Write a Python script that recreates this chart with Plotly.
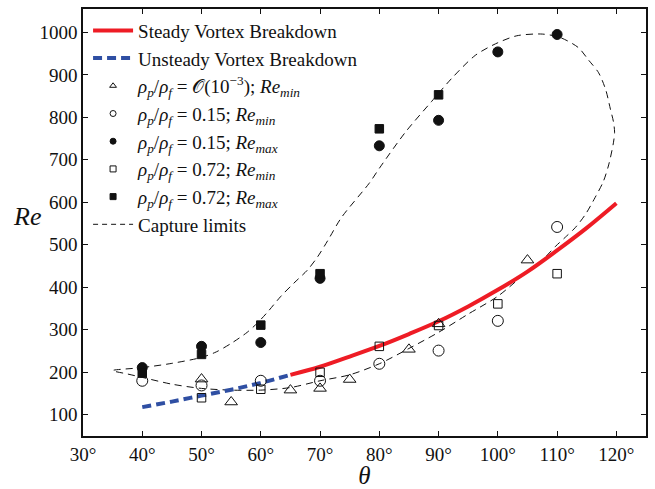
import plotly.graph_objects as go

# ---------------- data ----------------
theta_ticks = [30, 40, 50, 60, 70, 80, 90, 100, 110, 120]
theta_tick_text = ["30°", "40°", "50°", "60°", "70°", "80°", "90°", "100°", "110°", "120°"]
re_ticks = [100, 200, 300, 400, 500, 600, 700, 800, 900, 1000]

steady_theta = [65, 70, 75, 80, 85, 90, 95, 100, 105, 110, 115, 120]
steady_re = [194, 213, 237, 262, 290, 320, 355, 394, 437, 487, 540, 598]

unsteady_theta = [40, 45, 50, 55, 60, 65]
unsteady_re = [118, 131, 145, 159, 175, 194]

tri_theta = [50, 55, 65, 70, 75, 85, 90, 105]
tri_re = [184, 130, 158, 162, 183, 254, 314, 464]

c015min_theta = [40, 50, 60, 70, 80, 90, 100, 110]
c015min_re = [180, 169, 180, 180, 220, 251, 321, 542]

c015max_theta = [40, 50, 60, 70, 80, 90, 100, 110]
c015max_re = [211, 261, 270, 421, 733, 793, 954, 995]

s072min_theta = [50, 60, 70, 80, 90, 100, 110]
s072min_re = [140, 160, 200, 261, 310, 361, 432]

s072max_theta = [40, 50, 60, 70, 80, 90]
s072max_re = [198, 242, 311, 432, 773, 853]

capture_theta = [35, 40, 45, 50, 52.5, 55, 57.7, 59.5, 61.1, 63.4, 65.6, 67.9, 69.6, 71.3,
                 73.6, 78.3, 80, 84.4, 88.8, 92.3, 96.2, 99.6, 103.2, 107.5, 110.5, 113.6,
                 115.3, 117, 118.2, 119, 119.5, 119.7, 119.5, 118.7, 117.8, 116.4, 114.8,
                 113.1, 111.4, 109.7, 107.5, 105, 100, 95, 90, 85, 80, 75, 70, 65, 60, 55,
                 50, 45, 40, 37.5, 35]
capture_re = [204, 211, 221, 235, 248, 268, 294, 317, 341, 379, 410, 441, 472, 510,
              564, 645, 680, 765, 837, 893, 946, 973, 992, 996, 988, 964,
              935, 905, 865, 819, 790, 765, 740, 688, 649, 611, 572,
              541, 518, 496, 464, 437, 379, 337, 294, 256, 220, 194, 180, 164, 158, 158,
              162, 172, 188, 196, 204]

# legend labels
lbl_steady = "Steady Vortex Breakdown"
lbl_unsteady = "Unsteady Vortex Breakdown"
lbl_tri = "<i>ρ<sub>p</sub></i>/<i>ρ<sub>f</sub></i> = 𝒪(10<sup>−3</sup>); <i>Re<sub>min</sub></i>"
lbl_c015min = "<i>ρ<sub>p</sub></i>/<i>ρ<sub>f</sub></i> = 0.15; <i>Re<sub>min</sub></i>"
lbl_c015max = "<i>ρ<sub>p</sub></i>/<i>ρ<sub>f</sub></i> = 0.15; <i>Re<sub>max</sub></i>"
lbl_s072min = "<i>ρ<sub>p</sub></i>/<i>ρ<sub>f</sub></i> = 0.72; <i>Re<sub>min</sub></i>"
lbl_s072max = "<i>ρ<sub>p</sub></i>/<i>ρ<sub>f</sub></i> = 0.72; <i>Re<sub>max</sub></i>"
lbl_capture = "Capture limits"

FONT = "Liberation Serif"
BLACK = "#111111"

fig = go.Figure()

# capture limits curve (drawn first, under the markers)
fig.add_trace(go.Scatter(x=capture_theta, y=capture_re, mode="lines",
                         line=dict(color=BLACK, width=1, dash="7px,5px", shape="spline", smoothing=0.8),
                         showlegend=False, legendgroup="cap"))

fig.add_trace(go.Scatter(x=steady_theta, y=steady_re, mode="lines", name=lbl_steady,
                         line=dict(color="#ee1c25", width=4, shape="spline")))
fig.add_trace(go.Scatter(x=unsteady_theta, y=unsteady_re, mode="lines", name=lbl_unsteady,
                         line=dict(color="#2f4fa3", width=4, dash="9px,5px", shape="spline")))

marker_specs = [
    (tri_theta, tri_re, lbl_tri, "triangle-up-open", 11),
    (c015min_theta, c015min_re, lbl_c015min, "circle-open", 11),
    (c015max_theta, c015max_re, lbl_c015max, "circle", 10),
    (s072min_theta, s072min_re, lbl_s072min, "square-open", 8.5),
    (s072max_theta, s072max_re, lbl_s072max, "square", 8.5),
]
for i, (xs, ys, name, sym, sz) in enumerate(marker_specs):
    fig.add_trace(go.Scatter(x=xs, y=ys, mode="markers", name=name, showlegend=False,
                             legendgroup=f"m{i}",
                             marker=dict(symbol=sym, size=sz, color=BLACK,
                                         line=dict(color=BLACK, width=1))))

# legend-only entries (smaller legend markers, as in the reference)
for i, (xs, ys, name, sym, sz) in enumerate(marker_specs):
    fig.add_trace(go.Scatter(x=[None], y=[None], mode="markers", name=name,
                             legendgroup=f"m{i}",
                             marker=dict(symbol=sym, size=6, color=BLACK,
                                         line=dict(color=BLACK, width=1))))
fig.add_trace(go.Scatter(x=[None], y=[None], mode="lines", name=lbl_capture, legendgroup="cap",
                         line=dict(color=BLACK, width=1, dash="5px,4px")))

axis_common = dict(showline=True, linecolor=BLACK, linewidth=1.5, mirror="ticks",
                   ticks="inside", ticklen=5, tickcolor=BLACK, tickwidth=1,
                   showgrid=False, zeroline=False,
                   tickfont=dict(family=FONT, size=19, color=BLACK))

fig.update_xaxes(range=[30, 125], tickvals=theta_ticks, ticktext=theta_tick_text,
                 title=dict(text="<i>θ</i>", font=dict(family=FONT, size=25, color=BLACK), standoff=0),
                 **axis_common)
fig.update_yaxes(range=[50, 1055], tickvals=re_ticks, **axis_common)

fig.add_annotation(text="<i>Re</i>", xref="paper", yref="paper", x=-0.1, y=0.515,
                   xanchor="center", yanchor="middle",
                   showarrow=False, font=dict(family=FONT, size=26, color=BLACK))

fig.update_layout(
    width=655, height=489, autosize=False,
    margin=dict(l=83, r=8, t=7, b=47),
    paper_bgcolor="white", plot_bgcolor="white",
    font=dict(family=FONT, color=BLACK),
    legend=dict(x=0.009, y=0.994, xanchor="left", yanchor="top",
                bgcolor="rgba(0,0,0,0)", borderwidth=0, tracegroupgap=0,
                font=dict(family=FONT, size=19, color=BLACK), itemwidth=40),
)

fig.write_html("out.html", config={"displayModeBar": False},
               post_script="document.body.style.margin='0';")
